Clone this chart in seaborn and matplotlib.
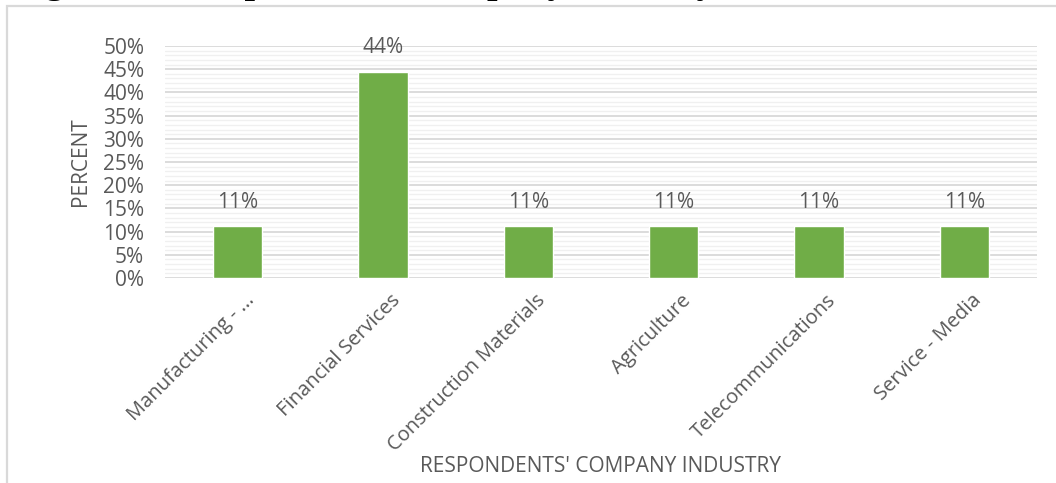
import numpy as np
import pandas as pd
import matplotlib
matplotlib.use("Agg")
import matplotlib.pyplot as plt
from matplotlib.patches import Rectangle
from matplotlib.ticker import MultipleLocator, FuncFormatter
import matplotlib.transforms as mtransforms
import seaborn as sns

# Share of respondents by company industry (percent)
industries = ["Manufacturing - ...", "Financial Services", "Construction Materials",
              "Agriculture", "Telecommunications", "Service - Media"]
percent = [11.11, 44.44, 11.11, 11.11, 11.11, 11.11]

df = pd.DataFrame({"industry": industries, "percent": percent})

sns.set_theme(style="white")
plt.rcParams["font.family"] = ["Open Sans", "DejaVu Sans"]

text_grey = "#595959"
bar_green = "#70AD47"

fig = plt.figure(figsize=(10.56, 4.83), dpi=100)
ax = fig.add_axes([165 / 1056, 1 - 278 / 483, (1037 - 165) / 1056, (278 - 46) / 483])

sns.barplot(data=df, x="industry", y="percent", color=bar_green, width=0.34,
            saturation=1, ax=ax, zorder=3)

ax.set_ylim(0, 50)
ax.set_xlim(-0.5, len(industries) - 0.5)
ax.yaxis.set_major_locator(MultipleLocator(5))
ax.yaxis.set_minor_locator(MultipleLocator(1))
ax.yaxis.set_major_formatter(FuncFormatter(lambda v, _: f"{v:.0f}%"))
ax.grid(axis="y", which="major", color="#d9d9d9", linewidth=1.3, zorder=0)
ax.grid(axis="y", which="minor", color="#f0f0f0", linewidth=1.0, zorder=0)
ax.set_axisbelow(True)
for s in ax.spines.values():
    s.set_visible(False)
ax.tick_params(axis="both", which="both", length=0)
ax.tick_params(axis="y", labelsize=15, labelcolor=text_grey, pad=15)
ax.tick_params(axis="x", labelsize=14.5, labelcolor=text_grey, pad=9)

shift = mtransforms.ScaledTranslation(7 / 100, 0, fig.dpi_scale_trans)
for lbl in ax.get_xticklabels():
    lbl.set_rotation(45)
    lbl.set_ha("right")
    lbl.set_rotation_mode("anchor")
    lbl.set_transform(lbl.get_transform() + shift)

# Value labels above each bar
for i, v in enumerate(percent):
    ax.annotate(f"{v:.0f}%", (i, v), xytext=(0, 10), textcoords="offset points",
                ha="center", va="bottom", fontsize=15, color=text_grey)

ax.set_xlabel("RESPONDENTS' COMPANY INDUSTRY", fontsize=15, color=text_grey)
ax.set_ylabel("PERCENT", fontsize=15, color=text_grey)
ax.xaxis.set_label_coords(0.5, (278 - 466) / (278 - 46))
ax.xaxis.label.set_va("center")
ax.yaxis.set_label_coords((80 - 165) / (1037 - 165), 0.5)
ax.yaxis.label.set_va("center")

# Chart frame
fig.patches.append(Rectangle((7 / 1056, -0.05), 1.1, 0.05 + 1 - 6 / 483,
                             transform=fig.transFigure, fill=False,
                             edgecolor="#d9d9d9", linewidth=1.6, zorder=0))

# Figure caption sitting above the chart frame
fig.text(12 / 1056, 1 + 7 / 483, "Figure 15: Respondents' Company Industry",
         fontsize=27, fontweight="bold", family="Liberation Serif",
         ha="left", va="baseline", color="black")

fig.savefig("out.png", dpi=100)
